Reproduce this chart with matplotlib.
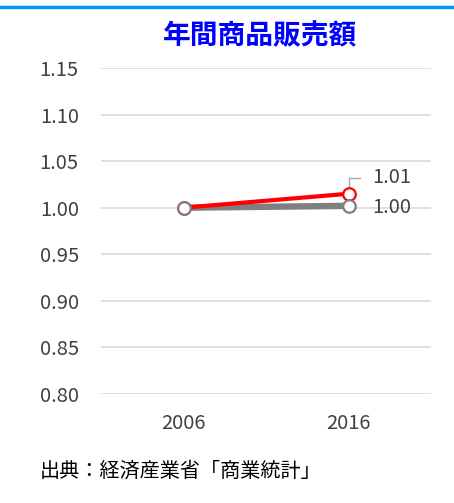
import numpy as np
import matplotlib
matplotlib.use("Agg")
import matplotlib.pyplot as plt
from matplotlib.lines import Line2D

plt.rcParams['font.family'] = ['Noto Sans CJK JP', 'DejaVu Sans']

# Data
years = ["2006", "2016"]
sales_red = [1.00, 1.015]
sales_grey = [1.00, 1.002]
label_red = "1.01"
label_grey = "1.00"
yticks = [0.80, 0.85, 0.90, 0.95, 1.00, 1.05, 1.10, 1.15]
title = "年間商品販売額"
source = "出典：経済産業省「商業統計」"

W, H = 454, 503
fig = plt.figure(figsize=(W / 100, H / 100), dpi=100)

# top blue rule
fig.add_artist(Line2D([0, 1], [1 - 6.5 / H, 1 - 6.5 / H], color="#0096ff", lw=2.5,
                      transform=fig.transFigure))

ax = fig.add_axes([101 / W, 1 - 394 / H, 330 / W, (394 - 68) / H])
x = np.arange(len(years))

ax.plot(x, sales_grey, color="#7f7f7f", lw=4.6, zorder=3, solid_capstyle="butt")
ax.plot(x, sales_red, color="#ff0000", lw=3.0, zorder=4, solid_capstyle="butt")
ax.plot(x, sales_red, "o", ms=9, mfc="white", mec="#ff0000", mew=1.6, zorder=5)
ax.plot(x, sales_grey, "o", ms=9, mfc="white", mec="#7f7f7f", mew=1.6, zorder=6)

ax.set_xlim(-0.5, 1.5)
ax.set_ylim(0.80, 1.15)
ax.set_yticks(yticks)
ax.set_yticklabels(["%.2f" % v for v in yticks])
ax.set_xticks(x)
ax.set_xticklabels(years)
ax.grid(axis="y", color="#d9d9d9", lw=1.2)
ax.set_axisbelow(True)
for s in ax.spines.values():
    s.set_visible(False)
ax.tick_params(length=0, labelsize=14.5, labelcolor="#404040")
ax.tick_params(axis="y", pad=16)
ax.tick_params(axis="x", pad=14)

# data labels
ax.annotate(label_red, xy=(x[1], sales_red[1]), xytext=(17, 11.5),
            textcoords="offset points",
            fontsize=14.5, color="#404040", va="center", ha="left",
            arrowprops=dict(arrowstyle="-", color="#a6a6a6", lw=1,
                            connectionstyle="angle,angleA=0,angleB=90,rad=0",
                            shrinkA=7, shrinkB=5))
ax.annotate(label_grey, xy=(x[1], sales_grey[1]), xytext=(17, -1),
            textcoords="offset points",
            fontsize=14.5, color="#404040", va="center", ha="left")

fig.text(260 / W, 1 - 36 / H, title, fontsize=20, fontweight="bold",
         color="#0000ff", ha="center", va="center")
fig.text(40 / W, 1 - 471 / H, source, fontsize=14.5, color="#000000",
         ha="left", va="center")

fig.savefig("out.png", dpi=100)
